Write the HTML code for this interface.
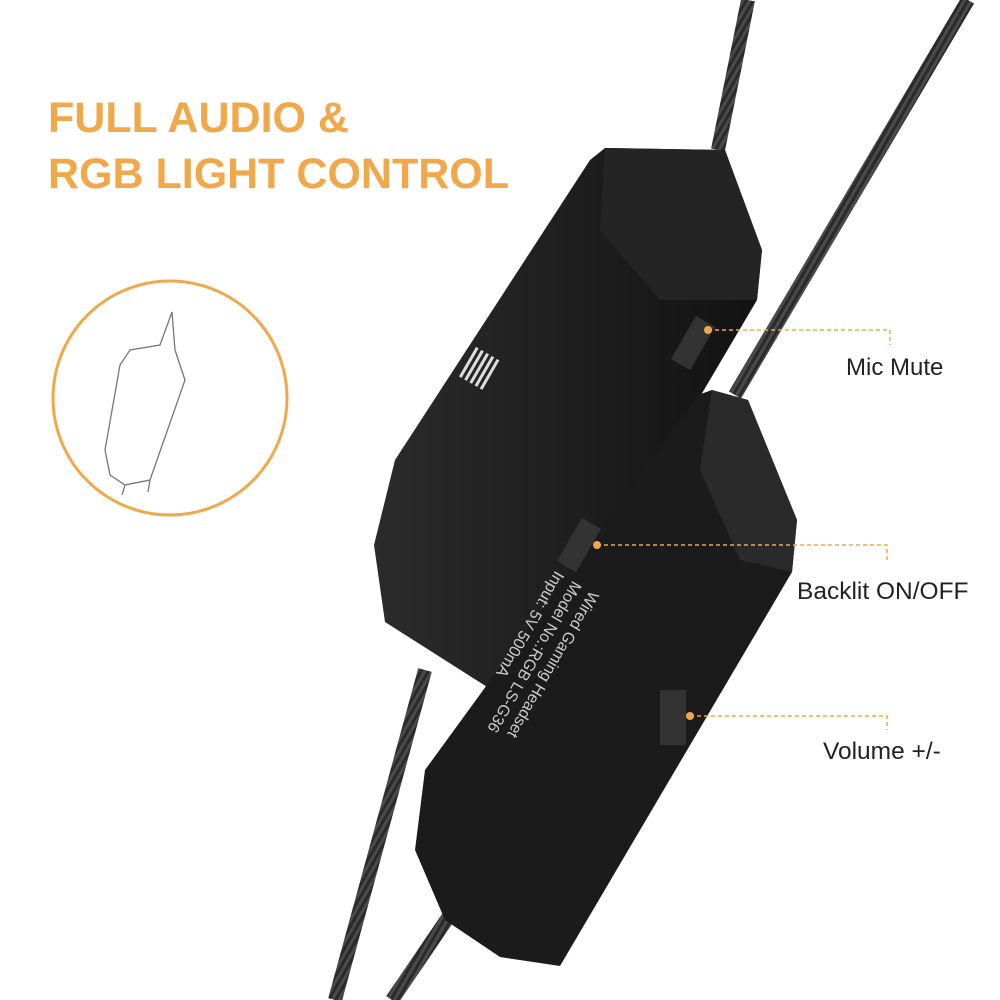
<!DOCTYPE html>
<html><head><meta charset="utf-8"><style>
html,body{margin:0;padding:0;background:#fff;width:1000px;height:1000px;overflow:hidden}
svg{display:block}
</style></head><body>
<svg width="1000" height="1000" viewBox="0 0 1000 1000" xmlns="http://www.w3.org/2000/svg">
<defs>
<pattern id="braid" width="6" height="6" patternUnits="userSpaceOnUse" patternTransform="rotate(30)">
<rect width="6" height="6" fill="#2a2a2a"/><rect width="3" height="6" fill="#4a4a4a"/>
</pattern>
<linearGradient id="g1" x1="0" y1="0" x2="1" y2="0"><stop offset="0" stop-color="#2b2b2b"/><stop offset="1" stop-color="#121212"/></linearGradient>
</defs>
<rect width="1000" height="1000" fill="#fff"/>
<text x="48" y="132" font-family="Liberation Sans, sans-serif" font-weight="bold" font-size="43" fill="#f0a84a">FULL AUDIO &amp;</text>
<text x="48" y="188" font-family="Liberation Sans, sans-serif" font-weight="bold" font-size="43" fill="#f0a84a">RGB LIGHT CONTROL</text>
<circle cx="170" cy="398" r="117" fill="#fff" stroke="#f0a84a" stroke-width="3"/>
<g fill="none" stroke="#777" stroke-width="1.3">
<path d="M172 312 L160 345 L130 350 L120 365 L105 450 L110 475 L125 485 L150 480 L185 380 L175 350 Z"/>
<path d="M125 485 L122 495 M150 480 L148 492"/>
</g>
<g stroke="url(#braid)" stroke-width="14" stroke-linecap="butt" fill="none">
<line x1="748" y1="0" x2="718" y2="150"/>
<line x1="968" y1="0" x2="735" y2="395"/>
<line x1="425" y1="670" x2="335" y2="1000"/>
<line x1="460" y1="900" x2="392" y2="1000"/>
</g>
<polygon points="605,148 725,150 762,250 757,300 540,668 495,692 385,622 374,545 395,460 590,160" fill="url(#g1)"/>
<polygon points="605,148 725,150 762,250 757,300 660,300 600,230" fill="#242424"/>
<polygon points="712,390 748,400 797,520 792,572 560,966 500,957 445,920 415,850 425,770 698,395" fill="#1b1b1b"/>
<polygon points="712,390 748,400 797,520 792,572 740,560 700,470" fill="#2a2a2a"/>
<g fill="#ddd">
<rect x="465" y="352" width="3" height="34" transform="rotate(30 480 370)"/>
<rect x="471" y="352" width="3" height="34" transform="rotate(30 480 370)"/>
<rect x="477" y="352" width="3" height="34" transform="rotate(30 480 370)"/>
<rect x="483" y="352" width="3" height="34" transform="rotate(30 480 370)"/>
<rect x="489" y="352" width="3" height="34" transform="rotate(30 480 370)"/>
</g>
<rect x="682" y="318" width="22" height="50" fill="#333" transform="rotate(30 693 343)"/>
<rect x="568" y="520" width="22" height="50" fill="#333" transform="rotate(30 579 545)"/>
<rect x="660" y="690" width="26" height="55" fill="#333"/>
<g font-family="Liberation Sans, sans-serif" font-size="16" fill="#ccc" transform="translate(590,590) rotate(120)">
<text x="0" y="0">Wired Gaming Headset</text>
<text x="0" y="20">Model No.:RGB LS-G36</text>
<text x="0" y="40">Input: 5V 500mA</text>
</g>
<g stroke="#f0a84a" stroke-width="1.5" stroke-dasharray="4,3" fill="none">
<polyline points="708,330 890,330 890,345"/>
<polyline points="597,545 887,545 887,560"/>
<polyline points="690,716 887,716 887,730"/>
</g>
<g fill="#f0a84a"><circle cx="708" cy="330" r="4"/><circle cx="597" cy="545" r="4"/><circle cx="690" cy="716" r="4"/></g>
<g font-family="Liberation Sans, sans-serif" fill="#222">
<text x="846" y="375" font-size="24">Mic Mute</text>
<text x="797" y="599" font-size="24.5">Backlit ON/OFF</text>
<text x="823" y="759" font-size="24.5">Volume +/-</text>
</g>
</svg>
</body></html>
